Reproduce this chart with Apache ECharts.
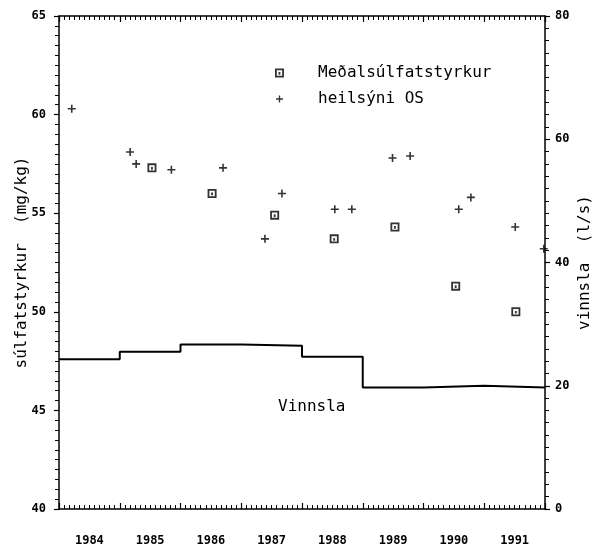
<!DOCTYPE html>
<html>
<head>
<meta charset="utf-8">
<script src="https://cdn.jsdelivr.net/npm/echarts@6/dist/echarts.min.js"></script>
<style>
  html, body { margin: 0; padding: 0; background: #fff; }
  #chart { width: 609px; height: 548px; }
</style>
</head>
<body>
<div id="chart"></div>
<script>
// Year labels, centred within each year
const yearLabels = ['1984', '1985', '1986', '1987', '1988', '1989', '1990', '1991'];

// Pumping rate (l/s): one level per year, starting at each year boundary
const vinnslaYears = [1984, 1985, 1986, 1987, 1988, 1989, 1990, 1991, 1992];
const vinnslaValues = [24.3, 25.5, 26.7, 26.5, 24.7, 19.7, 20.0, 19.7, 19.7];

// Annual mean sulphate concentration (mg/kg)
const medalTime = [1985.53, 1986.52, 1987.55, 1988.53, 1989.53, 1990.53, 1991.52];
const medalValues = [57.3, 56.0, 54.9, 53.7, 54.3, 51.3, 50.0];

// Individual samples, heilsýni OS (mg/kg)
const heilTime = [1984.21, 1985.17, 1985.27, 1985.85, 1986.70, 1987.39, 1987.67, 1988.54,
                  1988.82, 1989.49, 1989.78, 1990.58, 1990.78, 1991.51, 1991.98];
const heilValues = [60.3, 58.1, 57.5, 57.2, 57.3, 53.7, 56.0, 55.2,
                    55.2, 57.8, 57.9, 55.2, 55.8, 54.3, 53.2];

const FONT = '"DejaVu Sans Mono", "Liberation Mono", monospace';
const INK = '#000';

// Square with a small block inside, and a small plus
const SQUARE_SYM = 'path://M0,0H10V10H0Z M2,2V8H8V2Z M4,4H6V7H4Z';
const PLUS_SYM = 'path://M4,0H6V4H10V6H6V10H4V6H0V4H4Z';
// Same plus, padded with empty corners so the legend draws it a little smaller
const PLUS_LEGEND = 'path://M-1.5,-1.5L-1.5,-1.5Z M11.5,11.5L11.5,11.5Z M4,0H6V4H10V6H6V10H4V6H0V4H4Z';

const zip = (xs, ys) => xs.map((x, i) => [x, ys[i]]);

const timeAxisBase = {
  type: 'value', min: 1984, max: 1992, interval: 1,
  axisLine: { show: true, onZero: false, lineStyle: { color: INK, width: 1.5 } },
  axisTick: { show: true, inside: true, length: 6, lineStyle: { color: INK, width: 1.2 } },
  minorTick: { show: true, splitNumber: 12, length: 4, lineStyle: { color: INK, width: 1 } },
  axisLabel: { show: false },
  splitLine: { show: false }
};

const chart = echarts.init(document.getElementById('chart'), null, { renderer: 'canvas' });

chart.setOption({
  backgroundColor: '#fff',
  animation: false,
  grid: { left: 59, right: 64, top: 16, bottom: 39, containLabel: false, outerBoundsMode: 'none' },
  legend: {
    orient: 'vertical', left: 270, top: 59,
    itemWidth: 9, itemHeight: 9, itemGap: 8,
    data: [
      { name: 'Meðalsúlfatstyrkur' },
      { name: 'heilsýni OS', icon: PLUS_LEGEND }
    ],
    textStyle: { fontFamily: FONT, fontSize: 16, color: INK, padding: [0, 0, 0, 29], lineHeight: 18 }
  },
  xAxis: [
    Object.assign({}, timeAxisBase, { position: 'bottom' }),
    Object.assign({}, timeAxisBase, { position: 'top' }),
    {
      type: 'category', position: 'bottom', data: yearLabels, boundaryGap: true,
      axisLine: { show: false }, axisTick: { show: false },
      axisLabel: { fontFamily: FONT, fontSize: 12, fontWeight: 'bold', color: INK, margin: 26 },
      splitLine: { show: false }
    }
  ],
  yAxis: [
    {
      type: 'value', position: 'left', min: 40, max: 65, interval: 5,
      name: 'súlfatstyrkur  (mg/kg)', nameLocation: 'middle', nameRotate: 90, nameGap: 29,
      nameMoveOverlap: false,
      nameTextStyle: { fontFamily: FONT, fontSize: 16, color: INK },
      axisLine: { show: true, onZero: false, lineStyle: { color: INK, width: 1.5 } },
      axisTick: { show: true, inside: false, length: 5, lineStyle: { color: INK, width: 1.2 } },
      minorTick: { show: true, splitNumber: 10, length: 4, lineStyle: { color: INK, width: 1 } },
      axisLabel: { fontFamily: FONT, fontSize: 12, fontWeight: 'bold', color: INK, margin: 13 },
      splitLine: { show: false }
    },
    {
      type: 'value', position: 'right', min: 0, max: 80, interval: 20,
      name: 'vinnsla  (l/s)', nameLocation: 'middle', nameRotate: 90, nameGap: 32,
      nameMoveOverlap: false,
      nameTextStyle: { fontFamily: FONT, fontSize: 16, color: INK },
      axisLine: { show: true, onZero: false, lineStyle: { color: INK, width: 1.5 } },
      axisTick: { show: true, inside: false, length: 5, lineStyle: { color: INK, width: 1.2 } },
      minorTick: { show: true, splitNumber: 10, length: 4, lineStyle: { color: INK, width: 1 } },
      axisLabel: { fontFamily: FONT, fontSize: 12, fontWeight: 'bold', color: INK, margin: 10 },
      splitLine: { show: false }
    }
  ],
  series: [
    {
      name: 'Vinnsla', type: 'line', xAxisIndex: 0, yAxisIndex: 1,
      step: 'end', symbol: 'none',
      lineStyle: { color: INK, width: 2 },
      data: zip(vinnslaYears, vinnslaValues)
    },
    {
      name: 'Meðalsúlfatstyrkur', type: 'scatter', xAxisIndex: 0, yAxisIndex: 0,
      symbol: SQUARE_SYM, symbolSize: 9,
      itemStyle: { color: INK },
      data: zip(medalTime, medalValues)
    },
    {
      name: 'heilsýni OS', type: 'scatter', xAxisIndex: 0, yAxisIndex: 0,
      symbol: PLUS_SYM, symbolSize: 8,
      itemStyle: { color: INK },
      data: zip(heilTime, heilValues)
    }
  ],
  graphic: [
    {
      type: 'text', left: 278, top: 399,
      style: { text: 'Vinnsla', fontFamily: FONT, fontSize: 16, fill: INK }
    }
  ]
});
</script>
</body>
</html>
